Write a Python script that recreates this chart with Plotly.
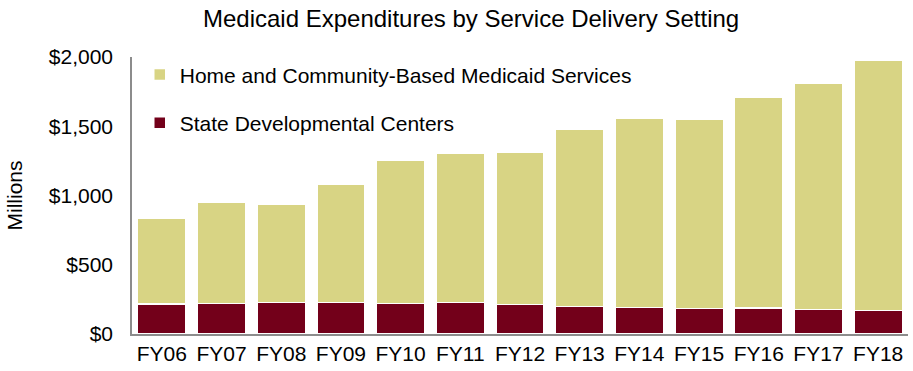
import plotly.graph_objects as go

years = ["FY06", "FY07", "FY08", "FY09", "FY10", "FY11", "FY12",
         "FY13", "FY14", "FY15", "FY16", "FY17", "FY18"]
# Millions of dollars
state_centers = [215, 220, 228, 226, 219, 226, 212, 200, 190, 183, 188, 178, 168]
home_community = [619, 732, 712, 855, 1034, 1076, 1098, 1276, 1367, 1370, 1524, 1632, 1812]

FONT = "Liberation Sans, Arial, sans-serif"

fig = go.Figure()
fig.add_trace(go.Bar(
    x=years, y=state_centers, name="State Developmental Centers",
    marker=dict(color="#73001A", line=dict(color="white", width=1.5)),
    legendrank=2, legendgroup="sdc",
))
fig.add_trace(go.Bar(
    x=years, y=home_community, name="Home and Community-Based Medicaid Services",
    marker=dict(color="#D8D484", line=dict(color="white", width=1.5)),
    legendrank=1, legendgroup="hcbs",
))

fig.update_layout(
    width=913, height=371,
    barmode="stack", bargap=0.19,
    plot_bgcolor="white", paper_bgcolor="white",
    margin=dict(l=132, r=5, t=57, b=37),
    font=dict(family=FONT, size=21, color="#000"),
    title=dict(text="Medicaid Expenditures by Service Delivery Setting",
               x=0.516, xanchor="center", y=0.951, yanchor="middle",
               font=dict(family=FONT, size=24, color="#000")),
    legend=dict(x=0.01, y=1.01, xanchor="left", yanchor="top",
                traceorder="grouped", tracegroupgap=18,
                bgcolor="rgba(0,0,0,0)",
                font=dict(family=FONT, size=21, color="#000")),
    showlegend=True,
)
fig.update_xaxes(showline=True, linecolor="#8c8c8c", linewidth=1.5,
                 ticks="", tickfont=dict(size=21))
fig.update_yaxes(range=[0, 2000], tickvals=[0, 500, 1000, 1500, 2000],
                 tickformat="$,d", showgrid=False, zeroline=False,
                 showline=True, linecolor="#8c8c8c", linewidth=1.5,
                 ticks="", ticklabelstandoff=13, tickfont=dict(size=21),
                 title=dict(text="Millions", font=dict(size=21), standoff=20))

fig.write_html("out.html")
